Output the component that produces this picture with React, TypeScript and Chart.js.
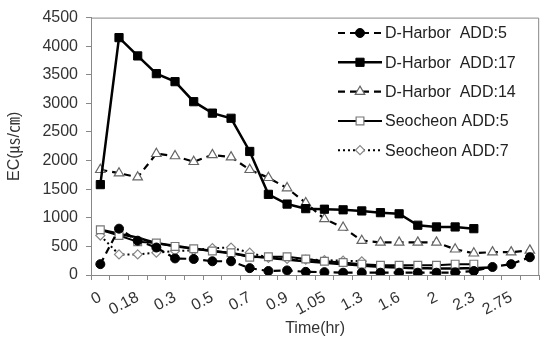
import React, { useEffect, useRef } from "react";
import { Chart, registerables } from "chart.js";
import { drawPoint } from "chart.js/helpers";

Chart.register(...registerables);

const categories = ["0", "0.08", "0.18", "0.25", "0.3", "0.4", "0.5", "0.6", "0.7", "0.8", "0.9", "1", "1.05", "1.15", "1.3", "1.45", "1.6", "1.8", "2", "2.15", "2.3", "2.5", "2.75", "3"];

const dHarbor5 = [190, 810, 600, 480, 290, 280, 240, 240, 120, 70, 80, 55, 50, 40, 40, 40, 40, 40, 40, 45, 70, 140, 190, 310];
const dHarbor17 = [1580, 4150, 3830, 3520, 3380, 3030, 2830, 2740, 2160, 1410, 1240, 1160, 1150, 1140, 1120, 1090, 1070, 870, 840, 840, 810];
const dHarbor14 = [1840, 1780, 1710, 2120, 2080, 1980, 2100, 2060, 1840, 1700, 1520, 1260, 980, 830, 600, 570, 570, 570, 570, 450, 380, 400, 400, 430];
const seocheon5 = [790, 690, 580, 560, 500, 460, 420, 390, 310, 320, 320, 280, 240, 220, 190, 170, 170, 170, 170, 190, 190];
const seocheon7 = [690, 360, 360, 390, 420, 430, 470, 480, 390, 300, 280, 270, 260, 250, 240];
const trendCurve = [790, 720, 650, 560, 510, 465, 420, 380, 330, 300, 270, 240, 215, 190, 165, 145, 130, 120, 115, 115, 120, 130];

const yTicks = [0, 500, 1000, 1500, 2000, 2500, 3000, 3500, 4000, 4500];

const FONT = "'Liberation Sans', Arial, 'Noto Sans CJK KR', sans-serif";

const legendPlugin = {
  id: "insideLegend",
  afterDraw(chart: any) {
    const ctx = chart.ctx;
    const ca = chart.chartArea;
    ctx.save();
    ctx.strokeStyle = "#888";
    ctx.lineWidth = 1;
    ctx.beginPath();
    ctx.moveTo(ca.left, ca.top + 0.5);
    ctx.lineTo(ca.right - 0.5, ca.top + 0.5);
    ctx.lineTo(ca.right - 0.5, ca.bottom);
    ctx.stroke();
    const x0 = 338, x1 = 382, tx = 385;
    chart.data.datasets.forEach((ds: any, i: number) => {
      if (ds.hideLegend) return;
      const y = 33 + i * 29.3;
      ctx.save();
      ctx.strokeStyle = ds.borderColor;
      ctx.lineWidth = ds.borderWidth;
      ctx.setLineDash(ds.borderDash || []);
      ctx.beginPath();
      ctx.moveTo(x0, y);
      ctx.lineTo(x1, y);
      ctx.stroke();
      ctx.restore();
      ctx.save();
      ctx.fillStyle = ds.pointBackgroundColor;
      ctx.strokeStyle = ds.pointBorderColor;
      ctx.lineWidth = ds.pointBorderWidth;
      drawPoint(ctx, { pointStyle: ds.pointStyle, radius: ds.pointRadius, borderWidth: ds.pointBorderWidth, rotation: 0 }, (x0 + x1) / 2, y);
      ctx.restore();
      ctx.fillStyle = "#222";
      ctx.font = "16px " + FONT;
      ctx.textBaseline = "middle";
      ctx.textAlign = "left";
      ctx.fillText(ds.label, tx, y + 1);
    });
    ctx.restore();
  },
};

export default function App() {
  const ref = useRef<HTMLCanvasElement>(null);
  useEffect(() => {
    const chart = new Chart(ref.current!, {
      type: "line",
      data: {
        labels: categories,
        datasets: [
          {
            label: "D-Harbor  ADD:5",
            data: dHarbor5,
            borderColor: "#000",
            borderWidth: 2.2,
            borderDash: [7, 5],
            pointStyle: "circle",
            pointRadius: 4.5,
            pointBackgroundColor: "#000",
            pointBorderColor: "#000",
            pointBorderWidth: 1,
          },
          {
            label: "D-Harbor  ADD:17",
            data: dHarbor17,
            borderColor: "#000",
            borderWidth: 2.5,
            pointStyle: "rect",
            pointRadius: 5.8,
            pointBackgroundColor: "#000",
            pointBorderColor: "#000",
            pointBorderWidth: 1,
          },
          {
            label: "D-Harbor  ADD:14",
            data: dHarbor14,
            borderColor: "#000",
            borderWidth: 2.2,
            borderDash: [7, 5],
            pointStyle: "triangle",
            pointRadius: 5.5,
            pointBackgroundColor: "#fff",
            pointBorderColor: "#666",
            pointBorderWidth: 1.2,
          },
          {
            label: "Seocheon ADD:5",
            data: seocheon5,
            borderColor: "#000",
            borderWidth: 2,
            pointStyle: "rect",
            pointRadius: 5.5,
            pointBackgroundColor: "#fff",
            pointBorderColor: "#777",
            pointBorderWidth: 1.2,
          },
          {
            label: "Seocheon ADD:7",
            data: seocheon7,
            borderColor: "#000",
            borderWidth: 2,
            borderDash: [2, 3],
            pointStyle: "rectRot",
            pointRadius: 4.5,
            pointBackgroundColor: "#fff",
            pointBorderColor: "#888",
            pointBorderWidth: 1.2,
          },
          {
            label: "trend",
            hideLegend: true,
            data: trendCurve,
            borderColor: "#000",
            borderWidth: 2.5,
            tension: 0.4,
            pointRadius: 0,
          } as any,
        ],
      },
      options: {
        responsive: false,
        animation: false,
        layout: { padding: { top: 14, right: 4, left: 0, bottom: 0 } },
        plugins: { legend: { display: false }, tooltip: { enabled: false } },
        scales: {
          x: {
            type: "category",
            offset: true,
            afterFit: (s: any) => { s.height = 64; },
            grid: { display: true, offset: true, drawOnChartArea: false, drawTicks: true, tickLength: 5, color: "#888" },
            border: { color: "#888", width: 1 },
            ticks: {
              autoSkip: false,
              maxRotation: 28,
              minRotation: 28,
              padding: 8,
              color: "#333",
              font: { size: 16, family: FONT },
              callback: (_v: any, i: number) => (i % 2 === 0 ? categories[i] : ""),
            },
            title: { display: true, text: "Time(hr)", color: "#333", font: { size: 16, family: FONT }, padding: { top: 0, bottom: 1 } },
          },
          y: {
            min: 0,
            max: 4500,
            afterFit: (s: any) => { s.width = 91; },
            afterBuildTicks: (s: any) => { s.ticks = yTicks.map((v) => ({ value: v })); },
            grid: { display: true, drawOnChartArea: false, drawTicks: true, tickLength: 5, color: "#888" },
            border: { color: "#888", width: 1 },
            ticks: { padding: 8, color: "#333", font: { size: 16, family: FONT }, callback: (v: any) => String(v) },
            title: { display: true, text: "EC(㎲/㎝)", color: "#333", font: { size: 16, family: FONT }, padding: { top: 5, bottom: 0 } },
          },
        },
      },
      plugins: [legendPlugin],
    });
    return () => chart.destroy();
  }, []);
  return (
    <div style={{ position: "absolute", left: 0, top: 0, width: 547, height: 339, background: "#fff" }}>
      <canvas ref={ref} width={547} height={339} />
    </div>
  );
}
